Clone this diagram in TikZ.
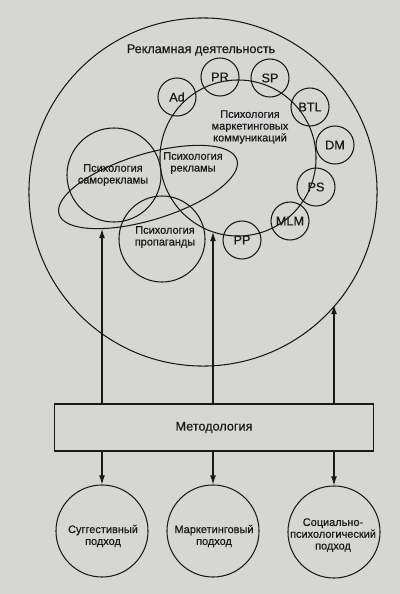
\documentclass[tikz,border=0pt]{standalone}
\usepackage{fontspec}
\setmainfont{Liberation Sans}[UprightFeatures={FakeBold=0.6}]
\usetikzlibrary{shapes.geometric,arrows.meta}
\definecolor{bg}{RGB}{214,214,212}
\definecolor{ink}{RGB}{25,25,25}
\tikzset{
  circ/.style={draw=ink, circle, inner sep=0pt, line width=0.75pt, text=ink},
  smallc/.style={circ, minimum size=0.95cm, font=\fontsize{9}{10}\selectfont},
  lab/.style={align=center, text=ink, inner sep=0pt, font=\fontsize{7.8}{8.4}\selectfont},
  arr/.style={draw=ink, line width=0.75pt, -{Latex[length=6.5pt,width=4.2pt]}}
}
\begin{document}
\begin{tikzpicture}[x=0.025cm, y=-0.025cm]
\fill[bg] (0,0) rectangle (400,594);
\useasboundingbox (0,0) rectangle (400,594);
% big circle
\node[circ, minimum size=8.7cm] (adv) at (203,192) {};
\node[text=ink, font=\fontsize{9}{10}\selectfont] (advt) at (201,50) {Рекламная деятельность};
% marketing communications
\node[circ, minimum size=3.9cm] (mk) at (238,158) {};
\node[lab] (mkt) at (250,127) {Психология\\маркетинговых\\коммуникаций};
% small circles
\node[smallc] (ad) at (177,97) {Ad};
\node[smallc] (pr) at (220,77) {PR};
\node[smallc] (sp) at (270,78) {SP};
\node[smallc] (btl) at (310,107) {BTL};
\node[smallc] (dm) at (335,145) {DM};
\node[smallc] (ps) at (316,187) {PS};
\node[smallc] (mlm) at (290,221) {MLM};
\node[smallc] (pp) at (242,240) {PP};
% self-advertising
\node[circ, minimum size=2.35cm] (self) at (114,175) {};
\node[lab] (selft) at (113,175) {Психология\\саморекламы};
% propaganda
\node[circ, minimum size=2.15cm] (prop) at (162,239) {};
\node[lab] (propt) at (165,237) {Психология\\пропаганды};
% advertising ellipse
\draw[ink, line width=0.75pt, rotate around={17:(148,187)}] (148,187) ellipse [x radius=93, y radius=33];
\node[lab] (advpt) at (193,163) {Психология\\рекламы};
\coordinate (ellb) at (102,229);
\coordinate (mkb) at (213,232);
\coordinate (advb) at (334,305);
% methodology
\node[draw=ink, line width=0.75pt, minimum width=7.95cm, minimum height=1.175cm, text=ink, font=\fontsize{9}{10}\selectfont] (meth) at (214,427.5) {Методология};
% approaches
\node[circ, minimum size=2.3cm] (sug) at (102,531) {};
\node[lab] (sugt) at (103,536) {Суггестивный\\подход};
\node[circ, minimum size=2.3cm] (mar) at (213,531) {};
\node[lab] (mart) at (214,536) {Маркетинговый\\подход};
\node[circ, minimum size=2.3cm] (soc) at (334,532) {};
\node[lab] (soct) at (333,535) {Социально-\\психологический\\подход};
% arrows
\draw[arr] (meth.north -| ellb) -- (ellb);
\draw[arr] (meth.north -| mkb) -- (mkb);
\draw[arr] (meth.north -| advb) -- (advb);
\draw[arr] (meth.south -| sug.north) -- (sug.north);
\draw[arr] (meth.south -| mar.north) -- (mar.north);
\draw[arr] (meth.south -| soc.north) -- (soc.north);
\end{tikzpicture}
\end{document}
